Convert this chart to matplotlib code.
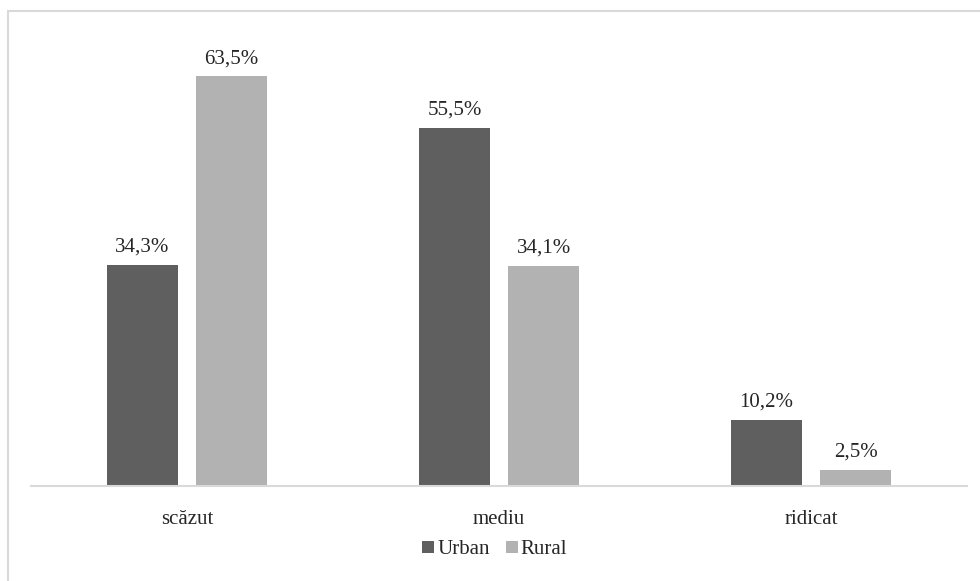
import numpy as np
import matplotlib
matplotlib.use("Agg")
import matplotlib.pyplot as plt
from matplotlib.patches import Rectangle

plt.rcParams['font.family'] = ['Liberation Serif', 'DejaVu Serif']

categories = ['scăzut', 'mediu', 'ridicat']
urban = [34.3, 55.5, 10.2]
rural = [63.5, 34.1, 2.5]

fig = plt.figure(figsize=(9.8, 5.81), dpi=100)
ax = fig.add_axes([31/980, 95/581, 936/980, 451.5/581])

x = np.arange(len(categories))
w = 0.226
b1 = ax.bar(x - 0.143, urban, w, color='#5f5f5f', label='Urban')
b2 = ax.bar(x + 0.143, rural, w, color='#b2b2b2', label='Rural')

for bars, vals in ((b1, urban), (b2, rural)):
    for r, v in zip(bars, vals):
        ax.annotate(f"{v:.1f}%".replace('.', ','), (r.get_x() + r.get_width()/2, v),
                    xytext=(0, 6), textcoords='offset points', ha='center', va='bottom',
                    fontsize=15, color='#262626')

ax.set_xlim(-0.5, 2.5)
ax.set_ylim(0, 70)
ax.set_xticks(x)
ax.set_xticklabels(categories, fontsize=15, color='#262626')
ax.tick_params(axis='x', length=0, pad=17)
ax.set_yticks([])
for s in ['top', 'right', 'left']:
    ax.spines[s].set_visible(False)
ax.spines['bottom'].set_color('#d9d9d9')
ax.spines['bottom'].set_linewidth(1.5)

leg = fig.legend(handles=[b1, b2], loc='center', bbox_to_anchor=(0.505, 1 - 550/581),
                 ncol=2, frameon=False, fontsize=15, handlelength=0.55, handleheight=0.55,
                 handletextpad=0.15, columnspacing=0.8)
for t in leg.get_texts():
    t.set_color('#262626')

# outer chart border (only left and top visible in the reference)
fig.patches.append(Rectangle((8/980, -0.1), 1.2, 1.1 - 11/581, transform=fig.transFigure,
                             fill=False, edgecolor='#d9d9d9', linewidth=1.5))

fig.savefig('out.png', dpi=100)
